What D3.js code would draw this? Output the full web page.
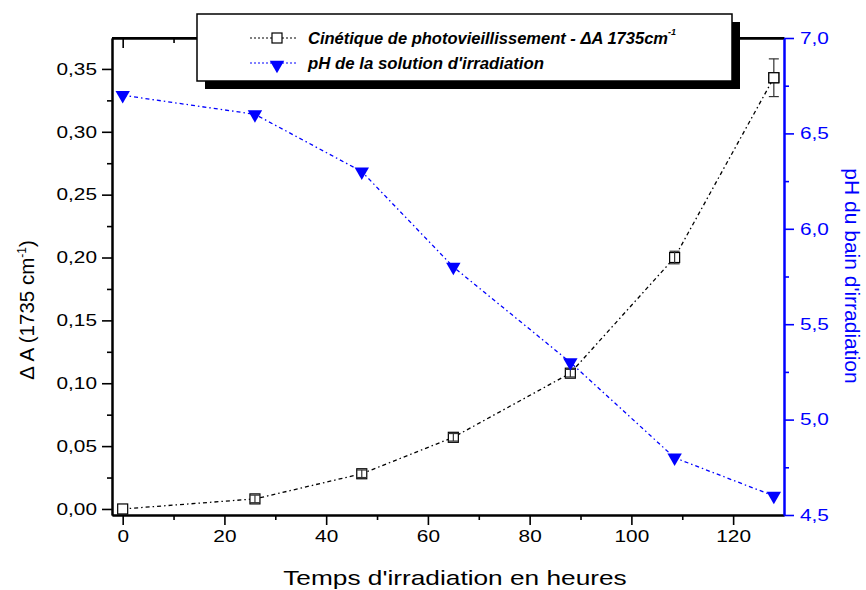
<!DOCTYPE html>
<html><head><meta charset="utf-8">
<script src="https://cdn.jsdelivr.net/npm/d3@7"></script>
<style>body{margin:0;background:#fff}svg{display:block}text{font-family:"Liberation Sans",Arial,sans-serif}</style>
</head><body>
<svg id="c" width="866" height="590"></svg>
<script>
const hours = [0, 26, 47, 65, 88, 108.5, 128];
const deltaA = [0.000, 0.008, 0.028, 0.057, 0.108, 0.200, 0.343];
const deltaAErr = [0.000, 0.003, 0.003, 0.003, 0.003, 0.005, 0.015];
const pH = [6.7, 6.6, 6.3, 5.8, 5.3, 4.8, 4.6];
const xTicks = [0, 20, 40, 60, 80, 100, 120];
const yLeftTicks = [0, 0.05, 0.10, 0.15, 0.20, 0.25, 0.30, 0.35];
const yRightTicks = [4.5, 5.0, 5.5, 6.0, 6.5, 7.0];
const legendLabels = ["Cinétique de photovieillissement - ΔA 1735cm", "pH de la solution d'irradiation"];

const svg = d3.select("#c");
const L = 112, R = 784, T = 38, B = 515;
const x = d3.scaleLinear().domain([-2.1, 130]).range([L, R]);
const yL = d3.scaleLinear().domain([-0.0048, 0.3746]).range([B, T]);
const yR = d3.scaleLinear().domain([4.5, 7.0]).range([B, T]);
const fmt = d3.format(".2f"), fmt1 = d3.format(".1f");
const comma = s => s.replace(".", ",");
const stretch = (sel, k) => sel.each(function () {
  const w = this.getComputedTextLength();
  d3.select(this).attr("textLength", w * k).attr("lengthAdjust", "spacingAndGlyphs");
});

// bottom axis
svg.append("g").attr("class", "lab").attr("transform", `translate(0,${B})`)
  .call(d3.axisBottom(x).tickValues(xTicks).tickSize(10).tickPadding(5).tickSizeOuter(0).tickFormat(d3.format("d")));
svg.append("g").attr("transform", `translate(0,${B})`)
  .call(d3.axisBottom(x).tickValues(d3.range(10, 130, 20)).tickSize(5).tickSizeOuter(0).tickFormat(""));
// top axis (inward ticks)
svg.append("g").attr("transform", `translate(0,${T})`)
  .call(d3.axisBottom(x).tickValues(xTicks).tickSize(10).tickSizeOuter(0).tickFormat(""));
svg.append("g").attr("transform", `translate(0,${T})`)
  .call(d3.axisBottom(x).tickValues(d3.range(10, 130, 20)).tickSize(5).tickSizeOuter(0).tickFormat(""));
// left axis
svg.append("g").attr("class", "lab").attr("transform", `translate(${L},0)`)
  .call(d3.axisLeft(yL).tickValues(yLeftTicks).tickSize(10).tickPadding(5).tickSizeOuter(0).tickFormat(d => comma(fmt(d))));
svg.append("g").attr("transform", `translate(${L},0)`)
  .call(d3.axisLeft(yL).tickValues(d3.range(0.025, 0.37, 0.05)).tickSize(5).tickSizeOuter(0).tickFormat(""));
// right axis
const rAx = svg.append("g").attr("class", "lab").attr("transform", `translate(${R},0)`)
  .call(d3.axisRight(yR).tickValues(yRightTicks).tickSize(10).tickPadding(6).tickSizeOuter(0).tickFormat(d => comma(fmt1(d))));
const rAx2 = svg.append("g").attr("transform", `translate(${R},0)`)
  .call(d3.axisRight(yR).tickValues(d3.range(4.75, 7.0, 0.5)).tickSize(5).tickSizeOuter(0).tickFormat(""));
svg.selectAll(".domain").attr("stroke", "#000").attr("stroke-width", 2);
svg.selectAll(".tick line").attr("stroke", "#000").attr("stroke-width", 1.6);
svg.selectAll(".tick text").attr("font-size", 16.5).attr("fill", "#000");
[rAx, rAx2].forEach(g => { g.selectAll(".domain,.tick line").attr("stroke", "#0000ff"); g.selectAll("text").attr("fill", "#0000ff"); });
stretch(svg.selectAll(".lab .tick text"), 1.26);
// top domain line
svg.append("line").attr("x1", L).attr("x2", R).attr("y1", T).attr("y2", T).attr("stroke", "#000").attr("stroke-width", 2);

// axis titles
const bt = svg.append("text").attr("x", 455).attr("y", 585).attr("text-anchor", "middle").attr("font-size", 21).text("Temps d'irradiation en heures");
stretch(bt, 1.25);
const lt = svg.append("text").attr("transform", "translate(34,310) rotate(-90)").attr("text-anchor", "middle").attr("font-size", 20.5);
lt.append("tspan").text("Δ A (1735 cm");
lt.append("tspan").attr("font-size", 12).attr("dy", -8).text("-1");
lt.append("tspan").attr("dy", 8).text(")");
svg.append("text").attr("transform", "translate(845,276) rotate(90)").attr("text-anchor", "middle").attr("font-size", 21).attr("fill", "#0000ff").text("pH du bain d'irradiation");

// series lines
const dataA = hours.map((h, i) => ({h, v: deltaA[i], e: deltaAErr[i]}));
const dataP = hours.map((h, i) => ({h, v: pH[i]}));
svg.append("path").datum(dataA).attr("fill", "none").attr("stroke", "#000").attr("stroke-width", 1.3)
  .attr("stroke-dasharray", "4,3,1.5,3")
  .attr("d", d3.line().x(d => x(d.h)).y(d => yL(d.v)));
svg.append("path").datum(dataP).attr("fill", "none").attr("stroke", "#0000ff").attr("stroke-width", 1.3)
  .attr("stroke-dasharray", "4,3,1.5,3")
  .attr("d", d3.line().x(d => x(d.h)).y(d => yR(d.v)));

// square markers
svg.append("g").selectAll("rect").data(dataA).join("rect")
  .attr("x", d => x(d.h) - 5).attr("y", d => yL(d.v) - 5).attr("width", 10).attr("height", 10)
  .attr("fill", "#fff").attr("stroke", "#000").attr("stroke-width", 1.2);
// error bars
const eb = svg.append("g").attr("stroke", "#333").attr("stroke-width", 1.2);
dataA.filter(d => d.e > 0).forEach(d => {
  const cx = x(d.h);
  eb.append("line").attr("x1", cx).attr("x2", cx).attr("y1", yL(d.v - d.e)).attr("y2", yL(d.v + d.e));
  eb.append("line").attr("x1", cx - 5).attr("x2", cx + 5).attr("y1", yL(d.v - d.e)).attr("y2", yL(d.v - d.e));
  eb.append("line").attr("x1", cx - 5).attr("x2", cx + 5).attr("y1", yL(d.v + d.e)).attr("y2", yL(d.v + d.e));
});
svg.append("g").selectAll("rect").data(dataA.filter(d => d.e > 0.01)).join("rect")
  .attr("x", d => x(d.h) - 5).attr("y", d => yL(d.v) - 5).attr("width", 10).attr("height", 10)
  .attr("fill", "#fff").attr("stroke", "#000").attr("stroke-width", 1.2);
// triangles
const tri = d3.symbol().type(d3.symbolTriangle).size(90);
svg.append("g").selectAll("path").data(dataP).join("path")
  .attr("transform", d => `translate(${x(d.h)},${yR(d.v)}) rotate(180)`).attr("d", tri).attr("fill", "#0000ff");

// legend
const lg = svg.append("g");
lg.append("rect").attr("x", 205).attr("y", 22).attr("width", 535).attr("height", 67).attr("fill", "#000");
lg.append("rect").attr("x", 197).attr("y", 14).attr("width", 535).attr("height", 67).attr("fill", "#fff").attr("stroke", "#000").attr("stroke-width", 1.5);
lg.append("line").attr("x1", 250).attr("x2", 298).attr("y1", 38).attr("y2", 38).attr("stroke", "#000").attr("stroke-dasharray", "2,2");
lg.append("rect").attr("x", 272).attr("y", 33).attr("width", 10).attr("height", 10).attr("fill", "#fff").attr("stroke", "#000").attr("stroke-width", 1.2);
lg.append("line").attr("x1", 250).attr("x2", 298).attr("y1", 63).attr("y2", 63).attr("stroke", "#0000ff").attr("stroke-dasharray", "2,2");
lg.append("path").attr("transform", "translate(277,65) rotate(180)").attr("d", tri).attr("fill", "#0000ff");
const t1 = lg.append("text").attr("x", 308).attr("y", 44).attr("font-size", 16).attr("font-weight", "bold").attr("font-style", "italic").attr("font-family", "DejaVu Sans");
const t1a = t1.append("tspan").text(legendLabels[0]);
t1.append("tspan").attr("font-size", 9).attr("dy", -9).text("-1");
t1a.attr("textLength", 360).attr("lengthAdjust", "spacingAndGlyphs");
lg.append("text").attr("x", 308).attr("y", 69).attr("font-size", 16).attr("font-weight", "bold").attr("font-style", "italic").attr("font-family", "DejaVu Sans")
  .attr("textLength", 236).attr("lengthAdjust", "spacingAndGlyphs").text(legendLabels[1]);
</script>
</body></html>
